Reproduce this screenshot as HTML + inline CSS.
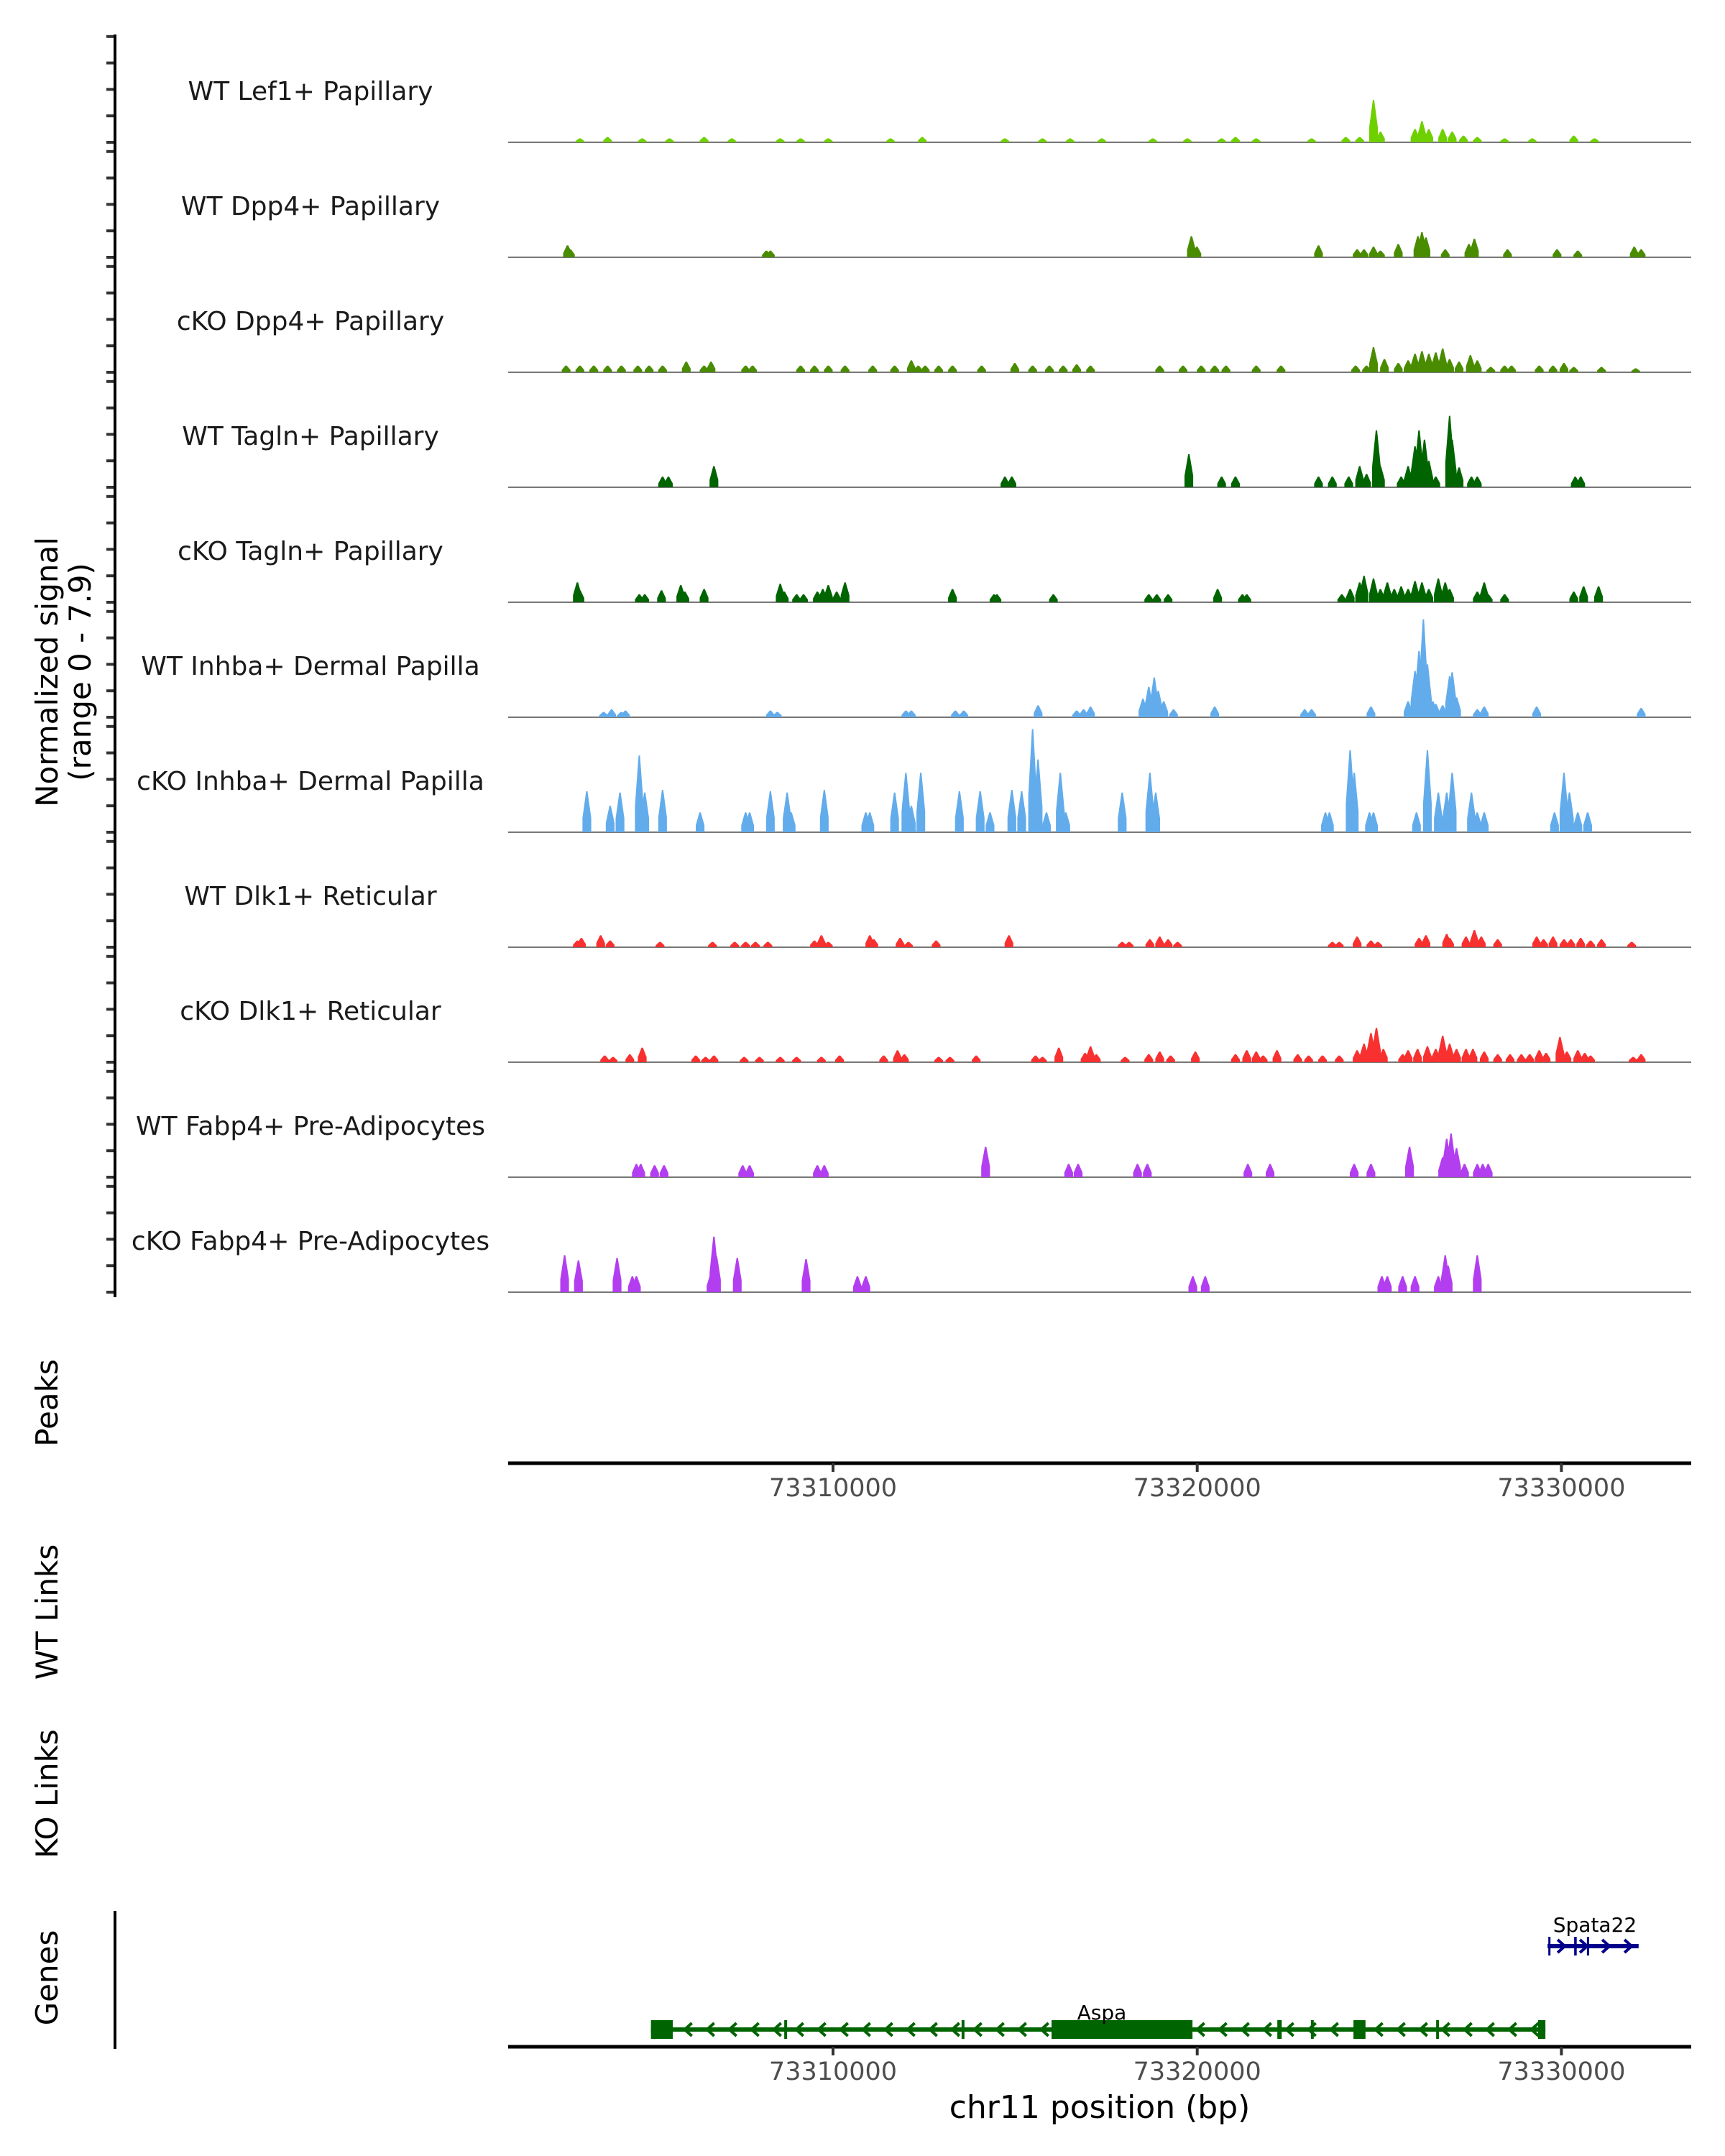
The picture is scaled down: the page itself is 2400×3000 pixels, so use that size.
<!DOCTYPE html>
<html><head><meta charset="utf-8"><style>
html,body{margin:0;padding:0;background:#fff}
svg{display:block;font-family:"DejaVu Sans","Liberation Sans",sans-serif}
</style></head><body>
<svg id="chart" xmlns="http://www.w3.org/2000/svg" width="2400" height="3000" viewBox="0 0 2400 3000">
<g id="tracks"></g>
<g id="axes"></g>
<g id="genes"></g>
<text transform="translate(80,935) rotate(-90)" text-anchor="middle" font-size="42" fill="#000">Normalized signal</text>
<text transform="translate(126,935) rotate(-90)" text-anchor="middle" font-size="42" fill="#000">(range 0 - 7.9)</text>
<text transform="translate(80,1952) rotate(-90)" text-anchor="middle" font-size="42" fill="#000">Peaks</text>
<text transform="translate(80,2243) rotate(-90)" text-anchor="middle" font-size="42" fill="#000">WT Links</text>
<text transform="translate(80,2496) rotate(-90)" text-anchor="middle" font-size="42" fill="#000">KO Links</text>
<text transform="translate(80,2752) rotate(-90)" text-anchor="middle" font-size="42" fill="#000">Genes</text>
<text x="1530" y="2947" text-anchor="middle" font-size="44" fill="#000">chr11 position (bp)</text>
</svg>
<script>
// positions in kb offset from 73,300,000 bp; heights in normalized signal
const trackNames = ["WT Lef1+ Papillary","WT Dpp4+ Papillary","cKO Dpp4+ Papillary","WT Tagln+ Papillary","cKO Tagln+ Papillary","WT Inhba+ Dermal Papilla","cKO Inhba+ Dermal Papilla","WT Dlk1+ Reticular","cKO Dlk1+ Reticular","WT Fabp4+ Pre-Adipocytes","cKO Fabp4+ Pre-Adipocytes"];
const trackColors = ["#6fd000","#4a8c00","#4a8c00","#006400","#006400","#62acec","#62acec","#f83030","#f83030","#b33ef0","#b33ef0"];
const pos1 = [3.05,3.81,4.76,5.51,6.46,7.22,8.55,9.11,9.87,11.58,12.45,14.72,15.75,16.51,17.38,18.78,19.73,20.67,21.05,21.62,23.14,24.08,24.46,24.84,25.03,25.98,26.17,26.36,26.74,27.0,27.31,27.69,28.44,29.2,30.34,30.91];
const h1 = [0.3,0.4,0.3,0.3,0.4,0.3,0.3,0.3,0.3,0.3,0.4,0.3,0.3,0.3,0.3,0.3,0.3,0.3,0.4,0.3,0.3,0.4,0.4,3.2,0.8,1.0,1.6,1.0,1.0,0.8,0.5,0.4,0.3,0.3,0.5,0.3];
const pos2 = [2.71,2.79,8.17,8.28,19.84,19.99,23.33,24.39,24.58,24.84,25.03,25.52,26.06,26.17,26.28,26.81,27.46,27.61,28.52,29.88,30.45,32.0,32.19];
const h2 = [0.9,0.6,0.5,0.5,1.6,0.8,0.9,0.6,0.6,0.8,0.5,1.0,1.6,1.9,1.5,0.6,1.0,1.4,0.6,0.6,0.5,0.8,0.6];
const pos3 = [2.67,3.05,3.43,3.81,4.19,4.64,4.95,5.32,5.97,6.46,6.65,7.6,7.79,9.11,9.49,9.87,10.33,11.09,11.69,12.15,12.34,12.53,12.9,13.28,14.08,14.99,15.48,15.94,16.32,16.69,17.07,18.97,19.61,20.11,20.48,20.79,21.62,22.3,24.35,24.65,24.84,25.14,25.52,25.79,25.98,26.17,26.36,26.55,26.74,26.93,27.19,27.5,27.69,28.06,28.44,28.63,29.39,29.77,30.07,30.34,31.1,32.04];
const h3 = [0.5,0.5,0.5,0.5,0.5,0.5,0.5,0.5,0.8,0.5,0.8,0.5,0.5,0.5,0.5,0.5,0.5,0.5,0.5,0.9,0.5,0.5,0.5,0.5,0.5,0.7,0.5,0.5,0.5,0.6,0.5,0.5,0.5,0.5,0.5,0.5,0.5,0.5,0.5,0.5,1.9,1.0,0.7,0.9,1.4,1.6,1.4,1.5,1.8,1.0,0.8,1.3,0.9,0.4,0.5,0.5,0.5,0.5,0.7,0.4,0.4,0.3];
const pos4 = [5.32,5.48,6.73,14.72,14.91,19.77,20.67,21.05,23.33,23.71,24.16,24.46,24.65,24.92,25.03,25.6,25.79,25.98,26.09,26.24,26.36,26.55,26.93,27.0,27.19,27.53,27.69,30.38,30.53];
const h4 = [0.8,0.8,1.6,0.8,0.8,2.5,0.8,0.8,0.8,0.8,0.8,1.6,1.0,4.3,1.6,0.8,1.6,3.1,4.3,3.6,2.0,0.8,5.4,3.6,1.5,0.8,0.8,0.8,0.8];
const pos5 = [2.98,3.05,4.68,4.83,5.29,5.82,5.93,6.46,8.55,8.66,9.0,9.19,9.57,9.72,9.87,10.1,10.33,13.28,14.42,14.5,16.05,18.67,18.89,19.2,20.56,21.24,21.36,23.97,24.2,24.46,24.58,24.84,25.03,25.22,25.41,25.6,25.79,25.98,26.17,26.36,26.62,26.81,26.93,27.69,27.88,27.99,28.44,30.34,30.61,31.02];
const h5 = [1.5,0.9,0.6,0.6,0.9,1.3,0.8,1.0,1.4,0.8,0.6,0.6,0.8,1.0,1.3,0.8,1.5,1.0,0.6,0.6,0.6,0.6,0.6,0.6,1.0,0.6,0.6,0.6,1.0,1.5,2.0,1.8,1.0,1.5,1.0,1.2,1.0,1.6,1.5,1.0,1.8,1.5,1.0,0.8,1.5,0.6,0.6,0.8,1.2,1.2];
const pos6 = [3.7,3.92,4.19,4.3,8.28,8.47,12.0,12.15,13.36,13.59,15.63,16.69,16.88,17.07,18.51,18.67,18.82,18.93,19.08,19.35,20.48,22.95,23.14,24.77,25.79,25.98,26.09,26.21,26.32,26.47,26.55,26.74,26.93,27.0,27.12,27.69,27.88,29.32,32.19];
const h6 = [0.4,0.6,0.4,0.5,0.5,0.4,0.5,0.5,0.5,0.5,0.9,0.5,0.6,0.8,1.4,2.3,3.0,2.0,1.2,0.6,0.8,0.6,0.6,0.8,1.2,3.5,5.0,7.4,4.0,1.2,1.0,0.9,3.1,3.4,1.5,0.6,0.8,0.8,0.7];
const pos7 = [3.24,3.88,4.15,4.68,4.83,5.32,6.35,7.6,7.71,8.28,8.74,8.85,9.76,10.9,11.01,11.69,12.0,12.15,12.41,13.47,14.04,14.31,14.91,15.18,15.48,15.63,15.86,16.24,16.39,17.94,18.7,18.86,23.52,23.63,24.2,24.31,24.73,24.84,26.02,26.32,26.62,26.85,27.0,27.53,27.69,27.88,29.81,30.07,30.22,30.45,30.72];
const h7 = [3.1,2.0,3.0,5.8,3.0,3.2,1.5,1.5,1.5,3.1,3.0,1.5,3.2,1.5,1.5,3.0,4.5,2.0,4.5,3.1,3.1,1.5,3.2,3.1,7.8,5.5,1.5,4.5,1.5,3.0,4.5,3.0,1.5,1.5,6.2,4.5,1.5,1.5,1.5,6.2,3.0,3.0,4.5,3.0,1.5,1.5,1.5,4.5,3.0,1.5,1.5];
const pos8 = [2.98,3.09,3.62,3.88,5.25,6.69,7.3,7.6,7.87,8.21,9.49,9.68,9.87,11.01,11.12,11.84,12.07,12.83,14.83,17.94,18.13,18.7,18.97,19.2,19.46,23.71,23.9,24.39,24.77,24.96,26.09,26.28,26.85,26.93,27.38,27.61,27.8,28.25,29.32,29.51,29.77,30.07,30.26,30.53,30.8,31.1,31.93];
const h8 = [0.5,0.7,0.9,0.5,0.4,0.4,0.4,0.4,0.4,0.4,0.5,0.9,0.4,0.9,0.6,0.7,0.4,0.5,0.9,0.4,0.4,0.6,0.8,0.6,0.4,0.4,0.4,0.8,0.5,0.4,0.7,0.9,1.0,0.7,0.8,1.3,0.8,0.6,0.8,0.6,0.8,0.6,0.6,0.7,0.5,0.6,0.4];
const pos9 = [3.73,3.96,4.42,4.76,6.23,6.5,6.73,7.56,7.98,8.55,9.0,9.68,10.18,11.39,11.77,11.96,12.9,13.21,13.93,15.56,15.75,16.2,16.92,17.07,17.23,18.02,18.67,18.97,19.27,19.95,21.05,21.36,21.62,21.81,22.19,22.76,23.06,23.44,23.9,24.39,24.58,24.77,24.92,25.11,25.64,25.79,26.05,26.32,26.55,26.74,26.93,27.12,27.38,27.57,27.88,28.25,28.59,28.9,29.13,29.39,29.58,29.96,30.15,30.45,30.64,30.8,31.97,32.19];
const h9 = [0.5,0.4,0.6,1.1,0.5,0.4,0.5,0.4,0.4,0.4,0.4,0.4,0.5,0.5,0.9,0.6,0.4,0.4,0.5,0.5,0.4,1.1,0.7,1.2,0.6,0.4,0.6,0.8,0.5,0.8,0.6,0.9,0.8,0.5,0.9,0.6,0.5,0.5,0.5,0.9,1.4,2.2,2.6,1.0,0.6,0.9,1.0,1.2,1.0,2.0,1.4,1.0,1.0,1.0,0.8,0.6,0.6,0.6,0.6,0.9,0.7,1.9,0.8,0.9,0.7,0.5,0.4,0.6];
const pos10 = [4.6,4.72,5.1,5.36,7.52,7.71,9.57,9.76,14.19,16.47,16.73,18.36,18.63,21.39,22.0,24.31,24.77,25.83,26.74,26.85,26.97,27.12,27.34,27.69,27.84,27.99];
const h10 = [1.0,1.0,0.9,0.9,0.9,0.9,0.9,0.9,2.3,1.0,1.0,1.0,1.0,1.0,1.0,1.0,1.0,2.3,1.5,2.9,3.3,2.2,1.0,1.0,1.0,1.0];
const pos11 = [2.63,3.01,4.07,4.49,4.6,6.65,6.73,6.8,7.37,9.26,10.67,10.9,19.88,20.22,25.07,25.22,25.64,25.98,26.62,26.81,26.89,27.69];
const h11 = [2.8,2.4,2.6,1.2,1.2,1.4,4.2,2.7,2.6,2.5,1.2,1.2,1.2,1.2,1.2,1.2,1.2,1.2,1.2,2.8,2.0,2.8];
const xTicks = [73310000,73320000,73330000];
const aspaExons = [[73305000,73305600],[73316000,73319870],[73322200,73322320],[73324290,73324620],[73329360,73329560]];
const aspaThin = [73308700,73313570,73323160,73326600];
const spataExons = [[73329640,73329700],[73330350,73330420],[73330700,73330760]];

const NS = "http://www.w3.org/2000/svg";
const X0 = 707, X1 = 2353;
const xScale = bp => 1159 + (bp - 73310000) * 0.05067;
const kbScale = kb => xScale(73300000 + kb * 1000);
const base0 = 198, trackStep = 160, unitPx = 18.4;
const yScale = (t, v) => base0 + t * trackStep - v * unitPx;
function mk(tag, attrs, parent) { const e = document.createElementNS(NS, tag); for (const k in attrs) e.setAttribute(k, attrs[k]); parent.appendChild(e); return e; }

const tracksG = document.getElementById('tracks');
const allPos = [pos1,pos2,pos3,pos4,pos5,pos6,pos7,pos8,pos9,pos10,pos11];
const allH = [h1,h2,h3,h4,h5,h6,h7,h8,h9,h10,h11];
const axesG = document.getElementById('axes');
const la = mk('line', {x1:160,y1:48,x2:160,y2:1805,stroke:'#000','stroke-width':4}, axesG);


for (let t = 0; t < 11; t++) {
  const g = mk('g', {}, tracksG);
  
  
  const lbl = mk('text', {x:432,y:base0 + t*trackStep - 59,'text-anchor':'middle','font-size':36,fill:'#1a1a1a'}, g);
  lbl.textContent = trackNames[t];
  
  
  for (let k = 0; k < 5; k++) {
    const ty = yScale(t, k * 2);
    const tk = mk('line', {x1:148,y1:ty,x2:160,y2:ty,stroke:'#333','stroke-width':4}, g);
    
    
  }
  const b = base0 + t*trackStep;
  const bl = mk('line', {x1:X0,y1:b,x2:X1,y2:b,stroke:'#777','stroke-width':2}, g);
  
  
  const P = allPos[t], H = allH[t], w = 0.12;
  for (let i = 0; i < P.length; i++) {
    const xl = kbScale(P[i] - w), xr = kbScale(P[i] + w), xc = kbScale(P[i]);
    const hw = (xr - xl) * 0.08;
    const pts = [[xl,b],[xl,yScale(t,H[i]*0.35)],[xc-hw,yScale(t,H[i])],[xc+hw,yScale(t,H[i])],[xr,yScale(t,H[i]*0.35)],[xr,b]];
    const p = mk('polygon', {points: pts.map(q => q[0].toFixed(1)+','+q[1].toFixed(1)).join(' '), fill: trackColors[t]}, g);
    
    
  }
}
function xAxis(y, name) {
  const g = mk('g', {}, axesG);
  
  
  mk('line', {x1:X0,y1:y,x2:X1,y2:y,stroke:'#000','stroke-width':5}, g);
  xTicks.forEach(v => {
    const x = xScale(v);
    const tk = mk('line', {x1:x,y1:y,x2:x,y2:y+12,stroke:'#333','stroke-width':4}, g);
    
    
    const tl = mk('text', {x:x,y:y+46,'text-anchor':'middle','font-size':35,fill:'#4d4d4d'}, g);
    tl.textContent = String(v);
    
    
  });
}
xAxis(2036, 'peaks-x-axis');
xAxis(2848, 'genes-x-axis');
const ga = mk('line', {x1:160,y1:2659,x2:160,y2:2851,stroke:'#000','stroke-width':4}, axesG);



const genesG = document.getElementById('genes');
function gene(name, start, end, y, color, exons, thin, dir, lx, ly) {
  const g = mk('g', {}, genesG);
  
  
  const xs = xScale(start), xe = xScale(end);
  mk('line', {x1:xs,y1:y,x2:xe,y2:y,stroke:color,'stroke-width':6}, g);
  for (let x = xs + 20; x < xe - 10; x += 31) {
    const d = dir < 0 ? `M${x+6},${y-9} L${x-4},${y} L${x+6},${y+9}` : `M${x-6},${y-9} L${x+4},${y} L${x-6},${y+9}`;
    mk('path', {d:d,stroke:color,'stroke-width':4,fill:'none'}, g);
  }
  exons.forEach(e => mk('rect', {x:xScale(e[0]),y:y-13,width:Math.max(3,xScale(e[1])-xScale(e[0])),height:26,fill:color}, g));
  thin.forEach(v => mk('rect', {x:xScale(v)-2,y:y-13,width:4,height:26,fill:color}, g));
  const t = mk('text', {x:lx,y:ly,'text-anchor':'middle','font-size':28,fill:'#000'}, g);
  t.textContent = name;
  
  
}
gene('Aspa', 73305000, 73329560, 2824, '#006400', aspaExons, aspaThin, -1, 1533, 2810);
gene('Spata22', 73329620, 73332120, 2708, '#00008b', spataExons, [], 1, 2219, 2688);
</script>
</body></html>
